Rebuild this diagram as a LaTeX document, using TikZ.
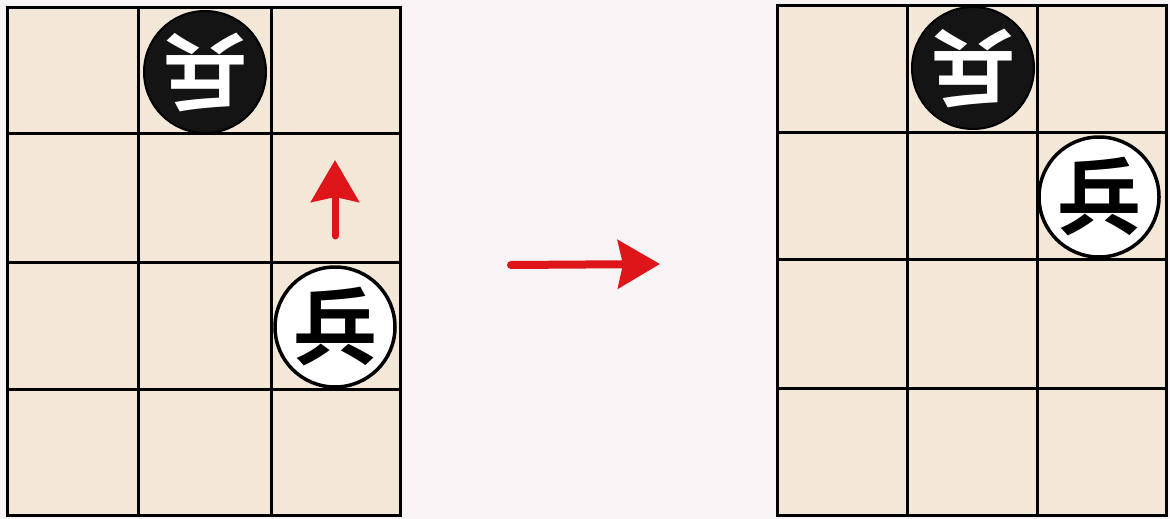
\documentclass[tikz,border=0pt]{standalone}
\usepackage{fontspec}
\newfontfamily\cjk{Noto Sans CJK SC}[BoldFont={* Bold}]
\usetikzlibrary{arrows.meta}
\definecolor{cellc}{RGB}{243,231,216}
\definecolor{paperc}{RGB}{248,244,246}
\definecolor{arrowred}{RGB}{222,22,26}
\tikzset{
  gridline/.style={line width=3pt, draw=black},
  blackpiece/.style={circle, fill=black!92, draw=black, line width=2pt, minimum size=122pt, inner sep=0pt, text=white, rotate=180, font=\cjk\bfseries\fontsize{84}{84}\selectfont},
  whitepiece/.style={circle, fill=white, draw=black, line width=3.5pt, minimum size=120pt, inner sep=0pt, text=black, font=\cjk\bfseries\fontsize{84}{84}\selectfont},
  movearrow/.style={draw=arrowred, line width=8pt, line cap=round, -{Stealth[length=42pt, width=48pt, inset=5pt]}},
}
\begin{document}
\begin{tikzpicture}[x=1pt, y=-1pt]
\useasboundingbox (0,0) rectangle (1170,519);
\fill[paperc] (0,0) rectangle (1170,519);
% left board
\fill[cellc] (7,8) rectangle (400,515);
\draw[gridline] (7,8) rectangle (400,515);
\foreach \x in {138,271} \draw[gridline] (\x,8) -- (\x,515);
\foreach \y in {133,262,389} \draw[gridline] (7,\y) -- (400,\y);
% right board
\fill[cellc] (777,6) rectangle (1166,515);
\draw[gridline] (777,6) rectangle (1166,515);
\foreach \x in {907,1037} \draw[gridline] (\x,6) -- (\x,515);
\foreach \y in {132,259,388} \draw[gridline] (777,\y) -- (1166,\y);
% pieces
\node[blackpiece] (lb) at (205,72) {兵};
\node[whitepiece] (lw) at (335,327) {兵};
\node[blackpiece] (rb) at (973,68) {兵};
\node[whitepiece] (rw) at (1099,197) {兵};
% arrows
\coordinate (upS) at (335,236);
\coordinate (upE) at (335,160);
\draw[movearrow, line width=7pt] (upS) -- (upE);
\coordinate (rtS) at (511,265);
\coordinate (rtE) at (660,264);
\draw[movearrow] (rtS) -- (rtE);
\end{tikzpicture}
\end{document}
